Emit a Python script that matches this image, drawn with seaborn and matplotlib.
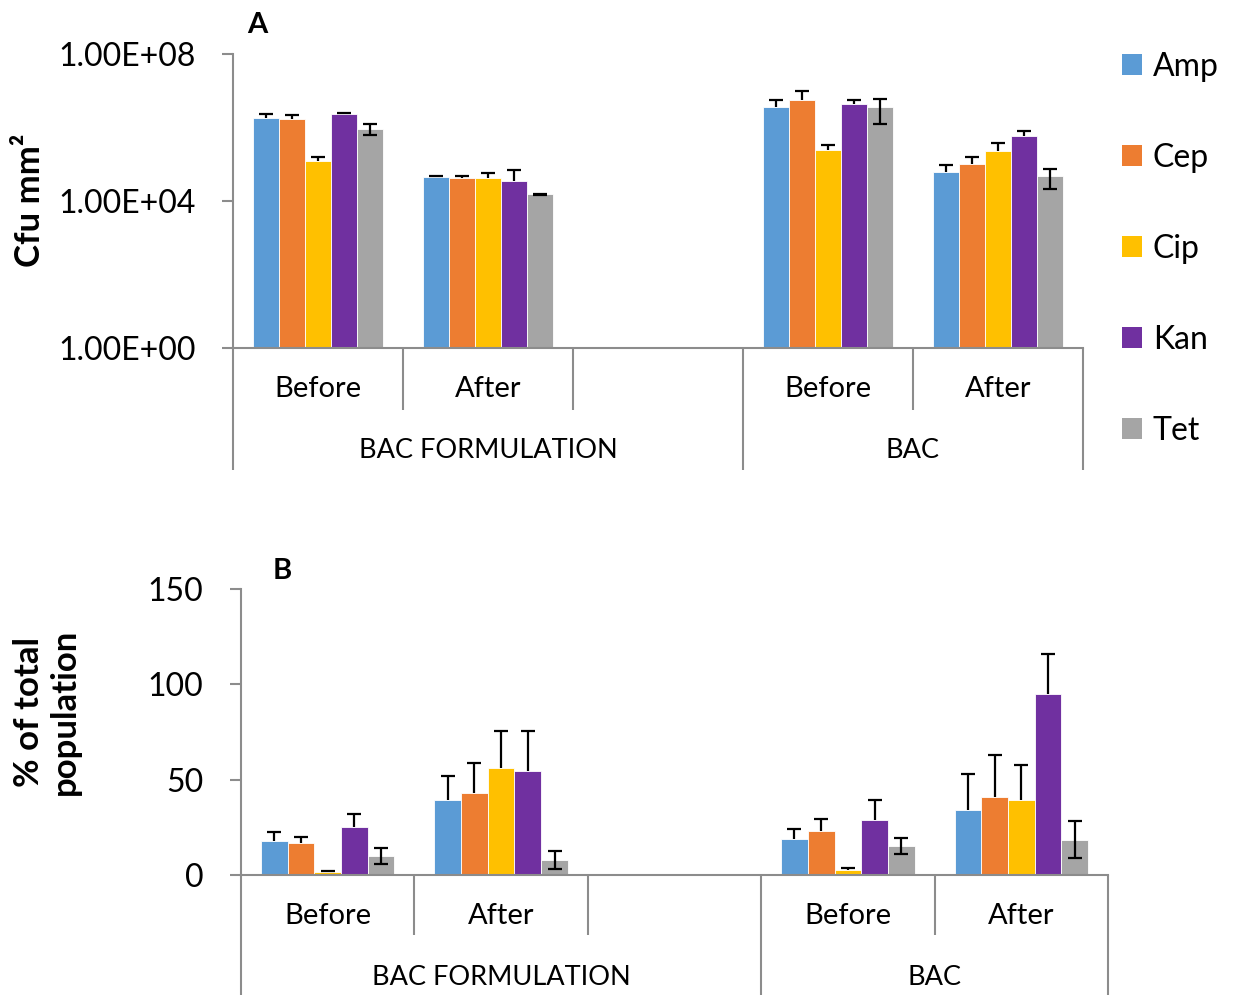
import matplotlib
matplotlib.use("Agg")
import matplotlib.pyplot as plt
import matplotlib.transforms as mtransforms
from matplotlib.colors import to_hex
from matplotlib.patches import Patch, Rectangle
from matplotlib.ticker import FixedLocator, FuncFormatter, NullLocator
import pandas as pd
import seaborn as sns

plt.rcParams['font.family'] = ['Lato', 'DejaVu Sans']

# ---------------- data ----------------
antibiotics = ["Amp", "Cep", "Cip", "Kan", "Tet"]
colors = ["#5B9BD5", "#ED7D31", "#FFC000", "#7030A0", "#A5A5A5"]
slots = ["BF_Before", "BF_After", "BF_gap", "BAC_Before", "BAC_After"]
slot_labels = ["Before", "After", "", "Before", "After"]
group_labels = ["BAC FORMULATION", "BAC"]
group_slot_spans = [(0, 2), (3, 4)]
both_direction_err = ["Tet"]

# Panel A: Cfu mm^2 (mean, error) per antibiotic
cfu_bf_before = [1.78e6, 1.70e6, 1.23e5, 2.34e6, 9.3e5]
cfu_bf_before_err = [5.1e5, 4.4e5, 3.9e4, 1.7e5, 3.0e5]
cfu_bf_after = [4.47e4, 4.17e4, 4.27e4, 3.47e4, 1.51e4]
cfu_bf_after_err = [4.3e3, 5.0e3, 1.35e4, 3.45e4, 8.0e2]
cfu_bac_before = [3.72e6, 5.75e6, 2.51e5, 4.27e6, 3.55e6]
cfu_bac_before_err = [2.0e6, 4.25e6, 8.0e4, 1.5e6, 2.3e6]
cfu_bac_after = [6.03e4, 1.02e5, 2.34e5, 5.75e5, 4.79e4]
cfu_bac_after_err = [3.5e4, 6.0e4, 1.38e5, 2.2e5, 2.7e4]

# Panel B: % of total population
pct_bf_before = [18.0, 16.6, 1.6, 25.3, 10.0]
pct_bf_before_err = [4.7, 3.5, 0.7, 6.7, 4.3]
pct_bf_after = [39.2, 42.8, 55.9, 54.4, 7.9]
pct_bf_after_err = [12.7, 15.9, 19.8, 21.3, 4.9]
pct_bac_before = [18.7, 23.1, 2.6, 28.8, 15.2]
pct_bac_before_err = [5.3, 6.4, 1.1, 10.5, 4.0]
pct_bac_after = [34.1, 40.9, 39.3, 94.9, 18.4]
pct_bac_after_err = [18.7, 22.2, 18.2, 21.0, 9.7]

yticks_a = [1, 1e4, 1e8]
yticks_b = [0, 50, 100, 150]


def build_df(series):
    rows = []
    for slot, (vals, errs) in series.items():
        for ab, v, e in zip(antibiotics, vals, errs):
            rows.append({"slot": slot, "antibiotic": ab, "value": v, "err": e})
    return pd.DataFrame(rows)


df_a = build_df({
    "BF_Before": (cfu_bf_before, cfu_bf_before_err),
    "BF_After": (cfu_bf_after, cfu_bf_after_err),
    "BAC_Before": (cfu_bac_before, cfu_bac_before_err),
    "BAC_After": (cfu_bac_after, cfu_bac_after_err),
})
df_b = build_df({
    "BF_Before": (pct_bf_before, pct_bf_before_err),
    "BF_After": (pct_bf_after, pct_bf_after_err),
    "BAC_Before": (pct_bac_before, pct_bac_before_err),
    "BAC_After": (pct_bac_after, pct_bac_after_err),
})

GRAY = "#8C8C8C"
FS = 21
FS_TICK = 23
FS_GROUP = 19.5

fig = plt.figure(figsize=(12.39, 9.96), dpi=100)
W, H = 1239, 996


def ax_rect(left, right, top, bottom):
    return [left / W, 1 - bottom / H, (right - left) / W, (bottom - top) / H]


ax_a = fig.add_axes(ax_rect(233, 1083, 54, 348))
ax_b = fig.add_axes(ax_rect(241, 1108, 589, 875))

color_to_ab = {to_hex(c): a for a, c in zip(antibiotics, colors)}


def draw_panel(ax, df, log, short_len, long_len, lab_y, grp_y):
    sns.barplot(data=df, x="slot", y="value", hue="antibiotic", order=slots,
                hue_order=antibiotics, palette=colors, width=0.77, gap=0,
                errorbar=None, ax=ax, legend=False,
                edgecolor="white", linewidth=0.6, saturation=1)
    if log:
        ax.set_yscale("log", nonpositive="clip")
    # error bars from data
    lookup = {(r.slot, r.antibiotic): r.err for r in df.itertuples()}
    for bar in list(ax.patches):
        if not isinstance(bar, Rectangle):
            continue
        ab = color_to_ab.get(to_hex(bar.get_facecolor()))
        if ab is None:
            continue
        h = bar.get_height()
        if h is None or h != h or h == 0:
            continue
        xc = bar.get_x() + bar.get_width() / 2
        slot = slots[int(round(xc))]
        if (slot, ab) not in lookup:
            continue
        e = lookup[(slot, ab)]
        y = bar.get_y() + h
        if ab in both_direction_err:
            ax.errorbar(xc, y, yerr=[[e], [e]], fmt="none", ecolor="black",
                        elinewidth=1.6, capsize=5, capthick=1.6, zorder=5)
        else:
            ax.errorbar(xc, y, yerr=[[0], [e]], fmt="none", ecolor="black",
                        elinewidth=1.6, capsize=0, zorder=5)
            ax.plot([xc], [y + e], marker="_", markersize=10, mew=1.6,
                    color="black", zorder=5, linestyle="none")
    ax.set_xlim(-0.5, len(slots) - 0.5)
    ax.set_xticks([])
    ax.set_xlabel("")
    ax.set_ylabel("")
    for s in ["top", "right"]:
        ax.spines[s].set_visible(False)
    for s in ["left", "bottom"]:
        ax.spines[s].set_color(GRAY)
        ax.spines[s].set_linewidth(1.5)
    ax.tick_params(axis="y", length=8, width=1.5, color=GRAY, pad=19,
                   labelsize=FS_TICK, direction="out")
    ax.yaxis.set_minor_locator(NullLocator())
    trans = mtransforms.blended_transform_factory(ax.transData, ax.transAxes)
    boundaries = [i - 0.5 for i in range(len(slots) + 1)]
    long_b = [-0.5] + [end + 0.5 for (_, end) in group_slot_spans]
    for b in boundaries:
        ln = long_len if b in long_b else short_len
        ax.plot([b, b], [0, -ln], transform=trans, color=GRAY, lw=1.5,
                clip_on=False, solid_capstyle="butt")
    for i, lab in enumerate(slot_labels):
        if lab:
            ax.text(i, -lab_y, lab, transform=trans, ha="center", va="center",
                    fontsize=FS)
    for g, (s0, s1) in zip(group_labels, group_slot_spans):
        ax.text((s0 + s1) / 2, -grp_y, g, transform=trans, ha="center",
                va="center", fontsize=FS_GROUP)


draw_panel(ax_a, df_a, True, 62 / 294, 122 / 294, 41 / 294, 102 / 294)
ax_a.set_ylim(yticks_a[0], yticks_a[-1])
ax_a.yaxis.set_major_locator(FixedLocator(yticks_a))
ax_a.yaxis.set_major_formatter(FuncFormatter(lambda v, p: f"{v:.2E}"))
ax_a.yaxis.set_minor_locator(NullLocator())

draw_panel(ax_b, df_b, False, 60 / 286, 120 / 286, 41 / 286, 102 / 286)
ax_b.set_ylim(yticks_b[0], yticks_b[-1])
ax_b.yaxis.set_major_locator(FixedLocator(yticks_b))

# axis titles and panel letters
fig.text(30 / W, 1 - 200 / H, "Cfu mm²", rotation=90, ha="center", va="center",
         fontsize=25, fontweight="bold")
fig.text(47 / W, 1 - 712 / H, "% of total\npopulation", rotation=90,
         ha="center", va="center", fontsize=25, fontweight="bold",
         multialignment="center", linespacing=1.15)
fig.text(257 / W, 1 - 25 / H, "A", ha="center", va="center", fontsize=FS,
         fontweight="bold")
fig.text(282 / W, 1 - 571 / H, "B", ha="center", va="center", fontsize=FS,
         fontweight="bold")

handles = [Patch(facecolor=c, edgecolor="none", label=a)
           for a, c in zip(antibiotics, colors)]
fig.legend(handles=handles, loc="upper left", bbox_to_anchor=(1122 / W, 1 - 52 / H),
           frameon=False, fontsize=23, handlelength=0.63, handleheight=0.63,
           handletextpad=0.33, labelspacing=1.91, borderpad=0, borderaxespad=0)

fig.savefig("out.png", dpi=100)
